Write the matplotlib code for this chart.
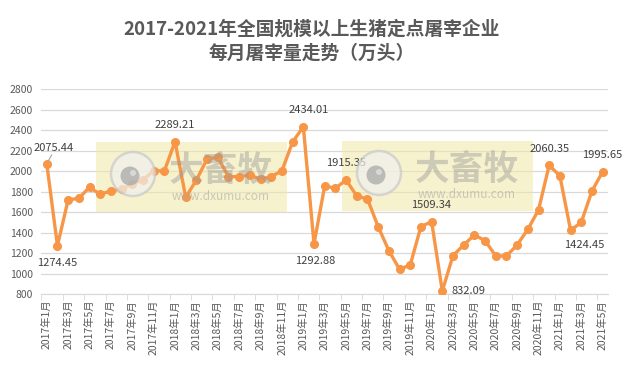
import matplotlib
matplotlib.use("Agg")
import matplotlib.pyplot as plt
from matplotlib.patches import Rectangle, Ellipse
import numpy as np

plt.rcParams["font.family"] = ["Noto Sans CJK SC", "DejaVu Sans"]

GRAY = "#595959"
ORANGE = "#F79646"

months = [f"{y}年{m}月" for y in range(2017, 2022) for m in range(1, 13)][:53]
values = [
    2075.44, 1274.45, 1720, 1737, 1844, 1776, 1808, 1828, 1876, 1915, 2006, 2003,
    2289.21, 1746, 1915, 2120, 2137, 1948, 1948, 1964, 1922, 1948, 2006, 2286,
    2434.01, 1292.88, 1857, 1834, 1915.35, 1759, 1730, 1460, 1226, 1044, 1086, 1460,
    1509.34, 832.09, 1177, 1281, 1379, 1324, 1174, 1174, 1281, 1434, 1623, 2060.35,
    1954, 1424.45, 1502, 1808, 1995.65,
]
# labelled points: index -> offset in pixels (dx, dy)
label_offsets = {
    0: (7, 16), 1: (0, -17), 12: (0, 17), 24: (5, 17), 25: (1, -17),
    28: (0, 17), 36: (0, 17), 37: (26, 0), 47: (0, 16), 49: (14, -15), 52: (0, 17),
}
y_ticks = list(range(800, 2801, 200))

W, H = 635, 366
fig = plt.figure(figsize=(W / 100, H / 100), dpi=100)
ax = fig.add_axes([41.4 / W, 1 - 294.3 / H, (608 - 41.4) / W, (294.3 - 89.3) / H])

x = np.arange(len(values))
ax.plot(x, values, color=ORANGE, lw=2.4, marker="o", ms=5.5, zorder=3)
ax.set_xlim(-0.5, len(values) - 0.5)
ax.set_ylim(800, 2800)
ax.set_yticks(y_ticks)
ax.set_yticklabels([str(v) for v in y_ticks], color=GRAY, fontsize=7.5)
ax.set_xticks(x[::2])
ax.set_xticklabels(months[::2], rotation=90, color=GRAY, fontsize=7.5)
ax.set_xticks(np.arange(-0.5, len(values), 2), minor=True)
ax.tick_params(axis="x", which="major", length=0, pad=4)
ax.tick_params(axis="x", which="minor", length=4, color="#d9d9d9")
ax.tick_params(axis="y", length=0, pad=6)
ax.grid(axis="y", color="#d9d9d9", lw=0.9)
ax.set_axisbelow(True)
for s in ["top", "right", "left"]:
    ax.spines[s].set_visible(False)
ax.spines["bottom"].set_color("#d9d9d9")

for i, (dx, dy) in label_offsets.items():
    ax.annotate(f"{values[i]:.2f}", (x[i], values[i]), xytext=(dx, dy),
                textcoords="offset pixels", ha="center", va="center",
                fontsize=8, color="#404040", zorder=4)
ax.annotate("", (x[0], values[0]), xytext=(x[0] + 0.6, values[0] + 110),
            arrowprops=dict(arrowstyle="-", color="#a6a6a6", lw=0.8))

fig.text(0.49, 1 - 29 / H, "2017-2021年全国规模以上生猪定点屠宰企业", ha="center", va="center",
         fontsize=13.5, fontweight="bold", color=GRAY)
fig.text(0.49, 1 - 53 / H, "每月屠宰量走势（万头）", ha="center", va="center",
         fontsize=13.5, fontweight="bold", color=GRAY)


# watermarks (pixel positions measured from top-left)
def fx(px):
    return px / W


def fy(py):
    return 1 - py / H


for ox, oy in [(0, 0), (246, -1)]:
    ax.add_patch(Rectangle((fx(96 + ox), fy(212 + oy)), 191 / W, 70 / H,
                           transform=fig.transFigure, facecolor="#f2e8a6",
                           alpha=0.55, edgecolor="none", zorder=1.5, clip_on=False))
    ax.add_patch(Ellipse((fx(133 + ox), fy(174 + oy)), 44 / W, 44 / H,
                         transform=fig.transFigure, facecolor="#f0f0f0", alpha=0.7,
                         edgecolor="#c8c8c8", lw=1.8, zorder=5, clip_on=False))
    ax.add_patch(Ellipse((fx(130 + ox), fy(176 + oy)), 19 / W, 19 / H,
                         transform=fig.transFigure, facecolor="#a8a8a8", alpha=0.75,
                         edgecolor="none", zorder=5, clip_on=False))
    ax.add_patch(Ellipse((fx(133 + ox), fy(173 + oy)), 6 / W, 6 / H,
                         transform=fig.transFigure, facecolor="#dcdcdc", alpha=0.9,
                         edgecolor="none", zorder=5, clip_on=False))
    fig.text(fx(221 + ox), fy(170 + oy), "大畜牧", ha="center", va="center", fontsize=25,
             fontweight="bold", color="#9a9a9a", alpha=0.45, zorder=6)
    fig.text(fx(221 + ox), fy(196 + oy), "www.dxumu.com", ha="center", va="center",
             fontsize=8.5, color="#a8a8a8", alpha=0.6, zorder=6)

fig.savefig("out.png", dpi=100)
